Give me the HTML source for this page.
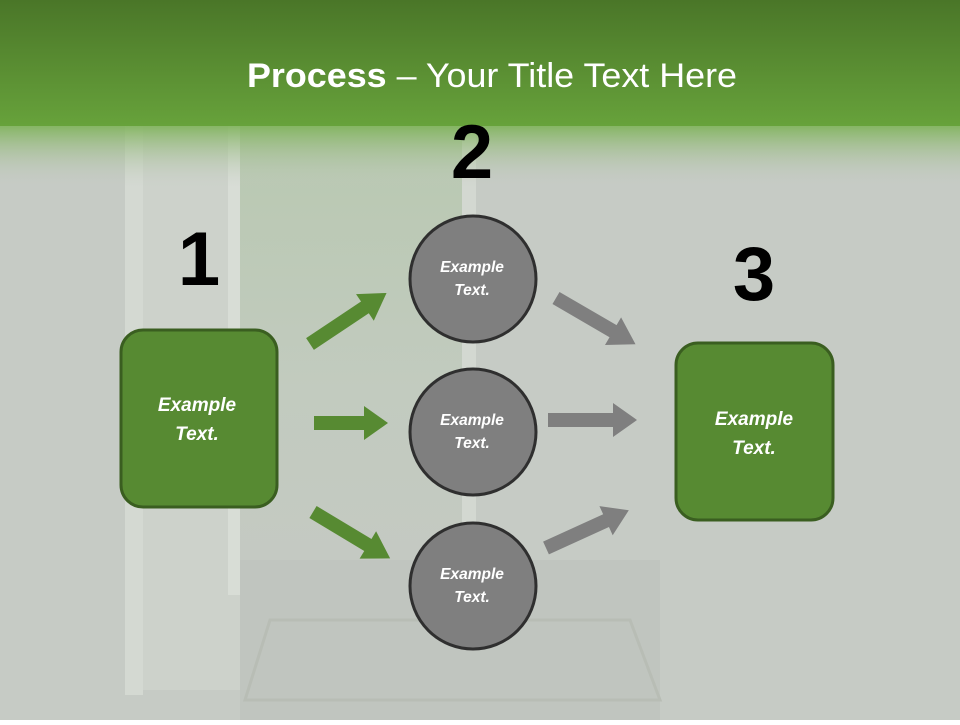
<!DOCTYPE html>
<html><head><style>
html,body{margin:0;padding:0;}
body{width:960px;height:720px;overflow:hidden;font-family:"Liberation Sans",sans-serif;}
</style></head><body>
<svg width="960" height="720" viewBox="0 0 960 720" xmlns="http://www.w3.org/2000/svg">
<defs>
<linearGradient id="top" x1="0" y1="0" x2="0" y2="1">
<stop offset="0" stop-color="#4a7628"/>
<stop offset="1" stop-color="#67a23b"/>
</linearGradient>
<linearGradient id="fade" x1="0" y1="0" x2="0" y2="1">
<stop offset="0" stop-color="#7fb35a" stop-opacity="0.9"/>
<stop offset="1" stop-color="#c6ccc6" stop-opacity="0"/>
</linearGradient>
<linearGradient id="win" x1="0" y1="0" x2="0" y2="1">
<stop offset="0" stop-color="#b8c8b0"/>
<stop offset="0.6" stop-color="#c2cbbf"/>
<stop offset="1" stop-color="#c4c9c2"/>
</linearGradient>
</defs>
<rect width="960" height="720" fill="#c6cbc5"/>
<rect x="240" y="125" width="230" height="440" fill="url(#win)"/>
<rect x="125" y="125" width="18" height="570" fill="#d4d9d2"/>
<rect x="143" y="125" width="97" height="565" fill="#cdd2cb"/>
<rect x="228" y="125" width="12" height="470" fill="#d8ddd6"/>
<rect x="462" y="125" width="14" height="420" fill="#d3d8d1"/>
<rect x="240" y="560" width="420" height="160" fill="#c0c5bf"/>
<polygon points="270,620 630,620 660,700 245,700" fill="none" stroke="#b8bdb5" stroke-width="3"/>
<rect width="960" height="126" fill="url(#top)"/>
<rect y="126" width="960" height="62" fill="url(#fade)"/>
<text x="492" y="87" text-anchor="middle" fill="#fff" font-size="34" textLength="490" lengthAdjust="spacingAndGlyphs"><tspan font-weight="bold">Process</tspan> – Your Title Text Here</text>
<g font-weight="bold" font-size="76" fill="#000" text-anchor="middle">
<text x="199" y="285">1</text>
<text x="472" y="178">2</text>
<text x="754" y="300">3</text>
</g>
<g fill="#578a32">
<polygon points="0,-7 66,-7 66,-16 92,0 66,16 66,7 0,7" transform="translate(310,344) rotate(-33.7)"/>
<polygon points="0,-7 50,-7 50,-17 74,0 50,17 50,7 0,7" transform="translate(314,423)"/>
<polygon points="0,-7 64,-7 64,-16 90,0 64,16 64,7 0,7" transform="translate(313,512) rotate(31)"/>
</g>
<g fill="#7f7f7f">
<polygon points="0,-7 66,-7 66,-16 92,0 66,16 66,7 0,7" transform="translate(556,298) rotate(30.2)"/>
<polygon points="0,-7 65,-7 65,-17 89,0 65,17 65,7 0,7" transform="translate(548,420)"/>
<polygon points="0,-7 66,-7 66,-16 91,0 66,16 66,7 0,7" transform="translate(546,548) rotate(-24.5)"/>
</g>
<rect x="121" y="330" width="156" height="177" rx="22" fill="#578a32" stroke="#3a5e20" stroke-width="3"/>
<rect x="676" y="343" width="157" height="177" rx="22" fill="#578a32" stroke="#3a5e20" stroke-width="3"/>
<g fill="#fff" font-weight="bold" font-style="italic" font-size="19" text-anchor="middle">
<text x="197" y="411">Example</text><text x="197" y="440">Text.</text>
<text x="754" y="425">Example</text><text x="754" y="454">Text.</text>
</g>
<g fill="#7f7f7f" stroke="#2f2f2f" stroke-width="3">
<circle cx="473" cy="279" r="63"/>
<circle cx="473" cy="432" r="63"/>
<circle cx="473" cy="586" r="63"/>
</g>
<g fill="#fff" font-weight="bold" font-style="italic" font-size="15.5" text-anchor="middle">
<text x="472" y="272">Example</text><text x="472" y="295">Text.</text>
<text x="472" y="425">Example</text><text x="472" y="448">Text.</text>
<text x="472" y="579">Example</text><text x="472" y="602">Text.</text>
</g>
</svg>
</body></html>
